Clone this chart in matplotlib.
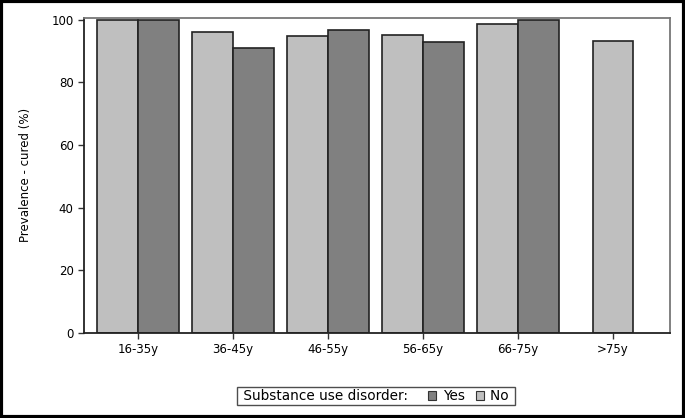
import numpy as np
import matplotlib
matplotlib.use("Agg")
import matplotlib.pyplot as plt
from matplotlib.patches import Patch, Rectangle
from matplotlib.offsetbox import HPacker

categories = ["16-35y", "36-45y", "46-55y", "56-65y", "66-75y", ">75y"]
no_sud = [100.0, 96.1, 94.9, 95.1, 98.5, 93.2]
yes_sud = [100.0, 90.8, 96.7, 92.8, 100.0, np.nan]
yticks = [0, 20, 40, 60, 80, 100]

c_no = "#bfbfbf"
c_yes = "#808080"

fig = plt.figure(figsize=(6.85, 4.18), dpi=100)
ax = fig.add_axes([84/685, 1 - 333/418, (670-84)/685, (333-17.7)/418])

w = 0.43
x = np.arange(len(categories))
for i in range(len(categories)):
    if np.isnan(yes_sud[i]):
        ax.bar(x[i], no_sud[i], width=w, color=c_no, edgecolor="#222222", linewidth=1.2)
    else:
        ax.bar(x[i] - w/2, no_sud[i], width=w, color=c_no, edgecolor="#222222", linewidth=1.2)
        ax.bar(x[i] + w/2, yes_sud[i], width=w, color=c_yes, edgecolor="#222222", linewidth=1.2)

ax.set_xlim(-0.57, 5.6)
ax.set_ylim(0, 100.6)
ax.set_yticks(yticks)
ax.set_xticks(x)
ax.set_xticklabels(categories)
ax.tick_params(axis="both", labelsize=8.5, length=4, width=1, color="#333333")
ax.set_ylabel("Prevalence - cured (%)", fontsize=8.5, labelpad=14)
for s in ["left", "bottom"]:
    ax.spines[s].set_color("#222222")
    ax.spines[s].set_linewidth(1.3)
for s in ["top", "right"]:
    ax.spines[s].set_color("#777777")
    ax.spines[s].set_linewidth(1.3)

fs = 9.8
handles = [Patch(facecolor=c_yes, edgecolor="#333333", linewidth=0.8),
           Patch(facecolor=c_no, edgecolor="#333333", linewidth=0.8)]
labels = ["Yes", "No "]
leg = fig.legend(handles, labels, ncol=2, loc="center", bbox_to_anchor=(376/685, 1 - 396/418),
                 fontsize=fs, title=" Substance use disorder:", title_fontsize=fs,
                 frameon=True, fancybox=False, handlelength=0.6, handleheight=0.6,
                 handletextpad=0.5, columnspacing=0.75, borderpad=0.1, borderaxespad=0,
                 edgecolor="#222222")
leg.get_frame().set_linewidth(1.0)
# lay the title out on the same line as the entries
dpi_scale = fig.dpi / 72.0
newbox = HPacker(pad=0.1 * fs * dpi_scale, sep=1.1 * fs * dpi_scale, align="center",
                 children=[leg._legend_title_box, leg._legend_handle_box])
newbox.set_figure(fig)
leg._legend_box = newbox
leg._set_loc(leg._loc)

fig.patches.append(Rectangle((0.002, 0.003), 0.996, 0.994, transform=fig.transFigure,
                             fill=False, edgecolor="black", linewidth=3))

fig.savefig("out.png", dpi=100)
